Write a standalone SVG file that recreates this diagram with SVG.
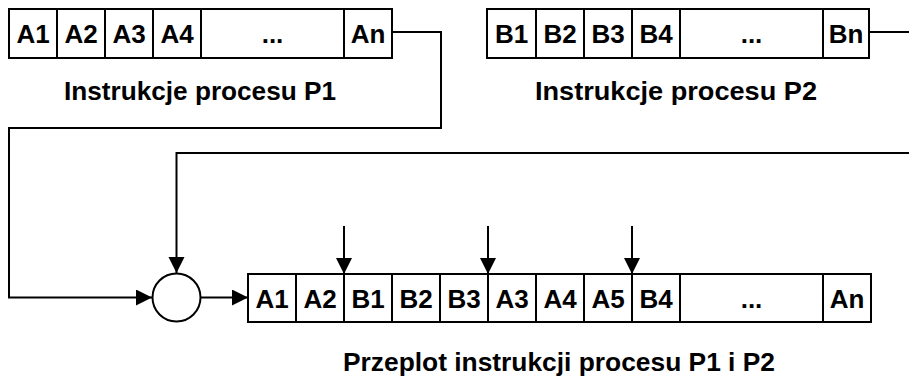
<svg xmlns="http://www.w3.org/2000/svg" width="909" height="385" viewBox="0 0 909 385">
<style>
.box{fill:#fff;stroke:#000;stroke-width:2}
.cell{font-family:"Liberation Sans",Arial,sans-serif;font-weight:bold;font-size:26px;text-anchor:middle;fill:#000}
.lbl{font-family:"Liberation Sans",Arial,sans-serif;font-weight:bold;font-size:25px;text-anchor:middle;fill:#000}
.ln{fill:none;stroke:#000;stroke-width:2}
</style>
<defs>
<marker id="ah" markerUnits="userSpaceOnUse" markerWidth="17" markerHeight="17" refX="16" refY="8" orient="auto">
<path d="M0,0 L16,8 L0,16 Z" fill="#000"/>
</marker>
</defs>
<rect width="909" height="385" fill="#fff"/>
<g id="p1">
<rect class="box" x="9" y="9" width="383" height="49"/>
<path class="ln" d="M57,9V58M105,9V58M153,9V58M201,9V58M344,9V58"/>
<text class="cell" x="33" y="43">A1</text>
<text class="cell" x="81" y="43">A2</text>
<text class="cell" x="129" y="43">A3</text>
<text class="cell" x="177" y="43">A4</text>
<text class="cell" x="272.5" y="43">...</text>
<text class="cell" x="368" y="43">An</text>
<text class="lbl" x="200" y="100" textLength="272" lengthAdjust="spacingAndGlyphs">Instrukcje procesu P1</text>
</g>
<g id="p2">
<rect class="box" x="487" y="9" width="382" height="49"/>
<path class="ln" d="M536,9V58M584,9V58M632,9V58M680,9V58M823,9V58"/>
<text class="cell" x="511.5" y="43">B1</text>
<text class="cell" x="560" y="43">B2</text>
<text class="cell" x="608" y="43">B3</text>
<text class="cell" x="656" y="43">B4</text>
<text class="cell" x="751.5" y="43">...</text>
<text class="cell" x="846" y="43">Bn</text>
<text class="lbl" x="676" y="100" textLength="282" lengthAdjust="spacingAndGlyphs">Instrukcje procesu P2</text>
</g>
<g id="merge">
<circle cx="176.5" cy="297.5" r="24" fill="#fff" stroke="#000" stroke-width="2"/>
</g>
<g id="result">
<rect class="box" x="248" y="274" width="623" height="48"/>
<path class="ln" d="M296,274V322M344,274V322M392,274V322M440,274V322M488,274V322M536,274V322M584,274V322M632,274V322M680,274V322M823,274V322"/>
<text class="cell" x="272" y="307.5">A1</text>
<text class="cell" x="320" y="307.5">A2</text>
<text class="cell" x="368" y="307.5">B1</text>
<text class="cell" x="416" y="307.5">B2</text>
<text class="cell" x="464" y="307.5">B3</text>
<text class="cell" x="512" y="307.5">A3</text>
<text class="cell" x="560" y="307.5">A4</text>
<text class="cell" x="608" y="307.5">A5</text>
<text class="cell" x="656" y="307.5">B4</text>
<text class="cell" x="751.5" y="307.5">...</text>
<text class="cell" x="847" y="307.5">An</text>
<text class="lbl" x="559" y="371" textLength="432" lengthAdjust="spacingAndGlyphs">Przeplot instrukcji procesu P1 i P2</text>
</g>
<g id="connectors">
<path class="ln" d="M392,32H441V128H9V297.5H152" marker-end="url(#ah)"/>
<path class="ln" d="M869,32H915"/>
<path class="ln" d="M915,153H176.5V273" marker-end="url(#ah)"/>
<path class="ln" d="M200.5,297.5H248" marker-end="url(#ah)"/>
<path class="ln" d="M344,226V274" marker-end="url(#ah)"/>
<path class="ln" d="M488,226V274" marker-end="url(#ah)"/>
<path class="ln" d="M632,226V274" marker-end="url(#ah)"/>
</g>
</svg>
